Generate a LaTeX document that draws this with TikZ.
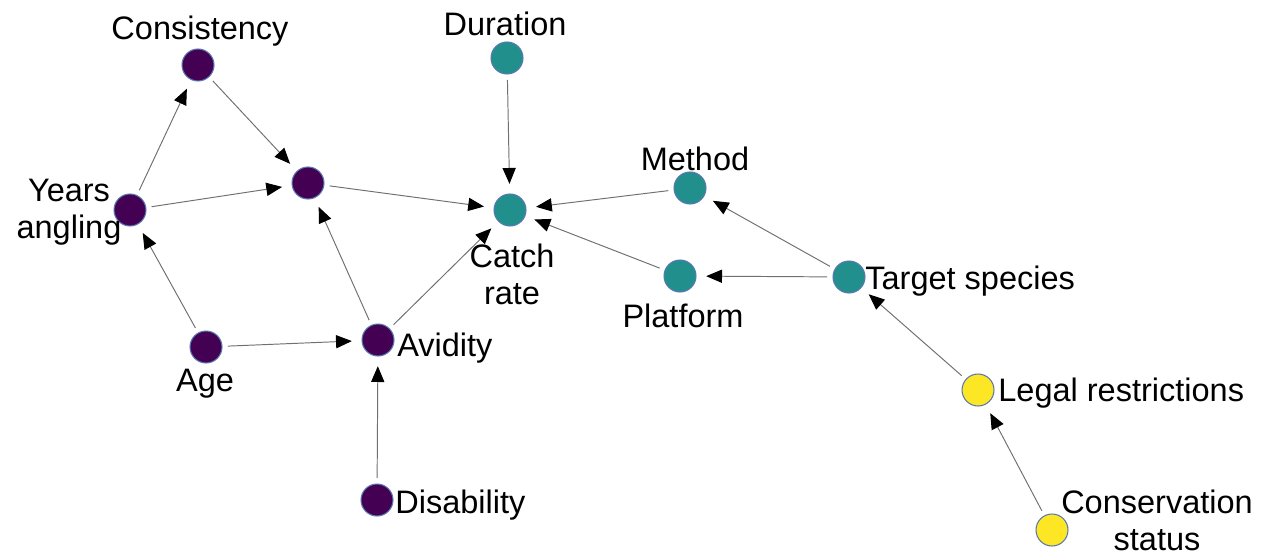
\documentclass[tikz,border=0pt]{standalone}
\usepackage{fontspec}
\setmainfont{Liberation Sans}
\usepackage{tikz}
\usetikzlibrary{arrows.meta}
\definecolor{vpurple}{HTML}{440154}
\definecolor{vteal}{HTML}{21908C}
\definecolor{vyellow}{HTML}{FDE725}
\definecolor{rimblue}{HTML}{5A78B0}
\definecolor{edgegray}{HTML}{707070}

\tikzset{
  dot/.style={circle, draw=rimblue, line width=0.6pt, minimum size=0.64cm, inner sep=0pt},
  purplenode/.style={dot, fill=vpurple},
  tealnode/.style={dot, fill=vteal},
  yellownode/.style={dot, fill=vyellow},
  lbl/.style={inner sep=0pt, font=\fontsize{18.5}{21}\selectfont, align=center},
  edge/.style={draw=edgegray, line width=0.55pt, shorten <=3pt, shorten >=5.5pt,
    -{Triangle[length=9pt, width=7.5pt, color=black]}}
}

\begin{document}
\begin{tikzpicture}[x=0.02cm, y=-0.02cm]
		\useasboundingbox (0,0) rectangle (1266,557);

		% circles
		\node (consistency) [purplenode] at (198,65) {};
		\node (hidden) [purplenode] at (308,183) {};
		\node (years) [purplenode] at (130,210) {};
		\node (age) [purplenode] at (206,347) {};
		\node (avidity) [purplenode] at (378,340) {};
		\node (disability) [purplenode] at (377,500) {};
		\node (duration) [tealnode] at (507,58) {};
		\node (catch) [tealnode] at (510,210) {};
		\node (method) [tealnode] at (690,188) {};
		\node (platform) [tealnode] at (680,276) {};
		\node (target) [tealnode] at (849,277) {};
		\node (legal) [yellownode] at (978,390) {};
		\node (conservation) [yellownode] at (1052,530) {};

		% labels
		\node (lconsistency) [lbl, anchor=base] at (200,40) {Consistency};
		\node (lduration) [lbl, anchor=base] at (505,36) {Duration};
		\node (lmethod) [lbl, anchor=base] at (695,171) {Method};
		\node (lyears) [lbl, anchor=base] at (69,238) {Years\\angling};
		\node (lcatch) [lbl, anchor=base] at (512,304) {Catch\\rate};
		\node (lplatform) [lbl, anchor=base] at (683,327) {Platform};
		\node (ltarget) [lbl, anchor=base west] at (865,289) {Target species};
		\node (lage) [lbl, anchor=base] at (205,391) {Age};
		\node (lavidity) [lbl, anchor=base west] at (397,356) {Avidity};
		\node (ldisability) [lbl, anchor=base west] at (395,513) {Disability};
		\node (llegal) [lbl, anchor=base west] at (998,401) {Legal restrictions};
		\node (lconservation) [lbl, anchor=base] at (1157,550) {Conservation\\status};

		% arrows
		\draw [edge] (years) -- (consistency);
		\draw [edge] (consistency) -- (hidden);
		\draw [edge] (years) -- (hidden);
		\draw [edge] (age) -- (years);
		\draw [edge] (age) -- (avidity);
		\draw [edge] (avidity) -- (hidden);
		\draw [edge] (avidity) -- (catch);
		\draw [edge] (hidden) -- (catch);
		\draw [edge] (duration) -- (catch);
		\draw [edge] (method) -- (catch);
		\draw [edge] (platform) -- (catch);
		\draw [edge] (disability) -- (avidity);
		\draw [edge] (target) -- (method);
		\draw [edge] (target) -- (platform);
		\draw [edge] (legal) -- (target);
		\draw [edge] (conservation) -- (legal);

\end{tikzpicture}
\end{document}
